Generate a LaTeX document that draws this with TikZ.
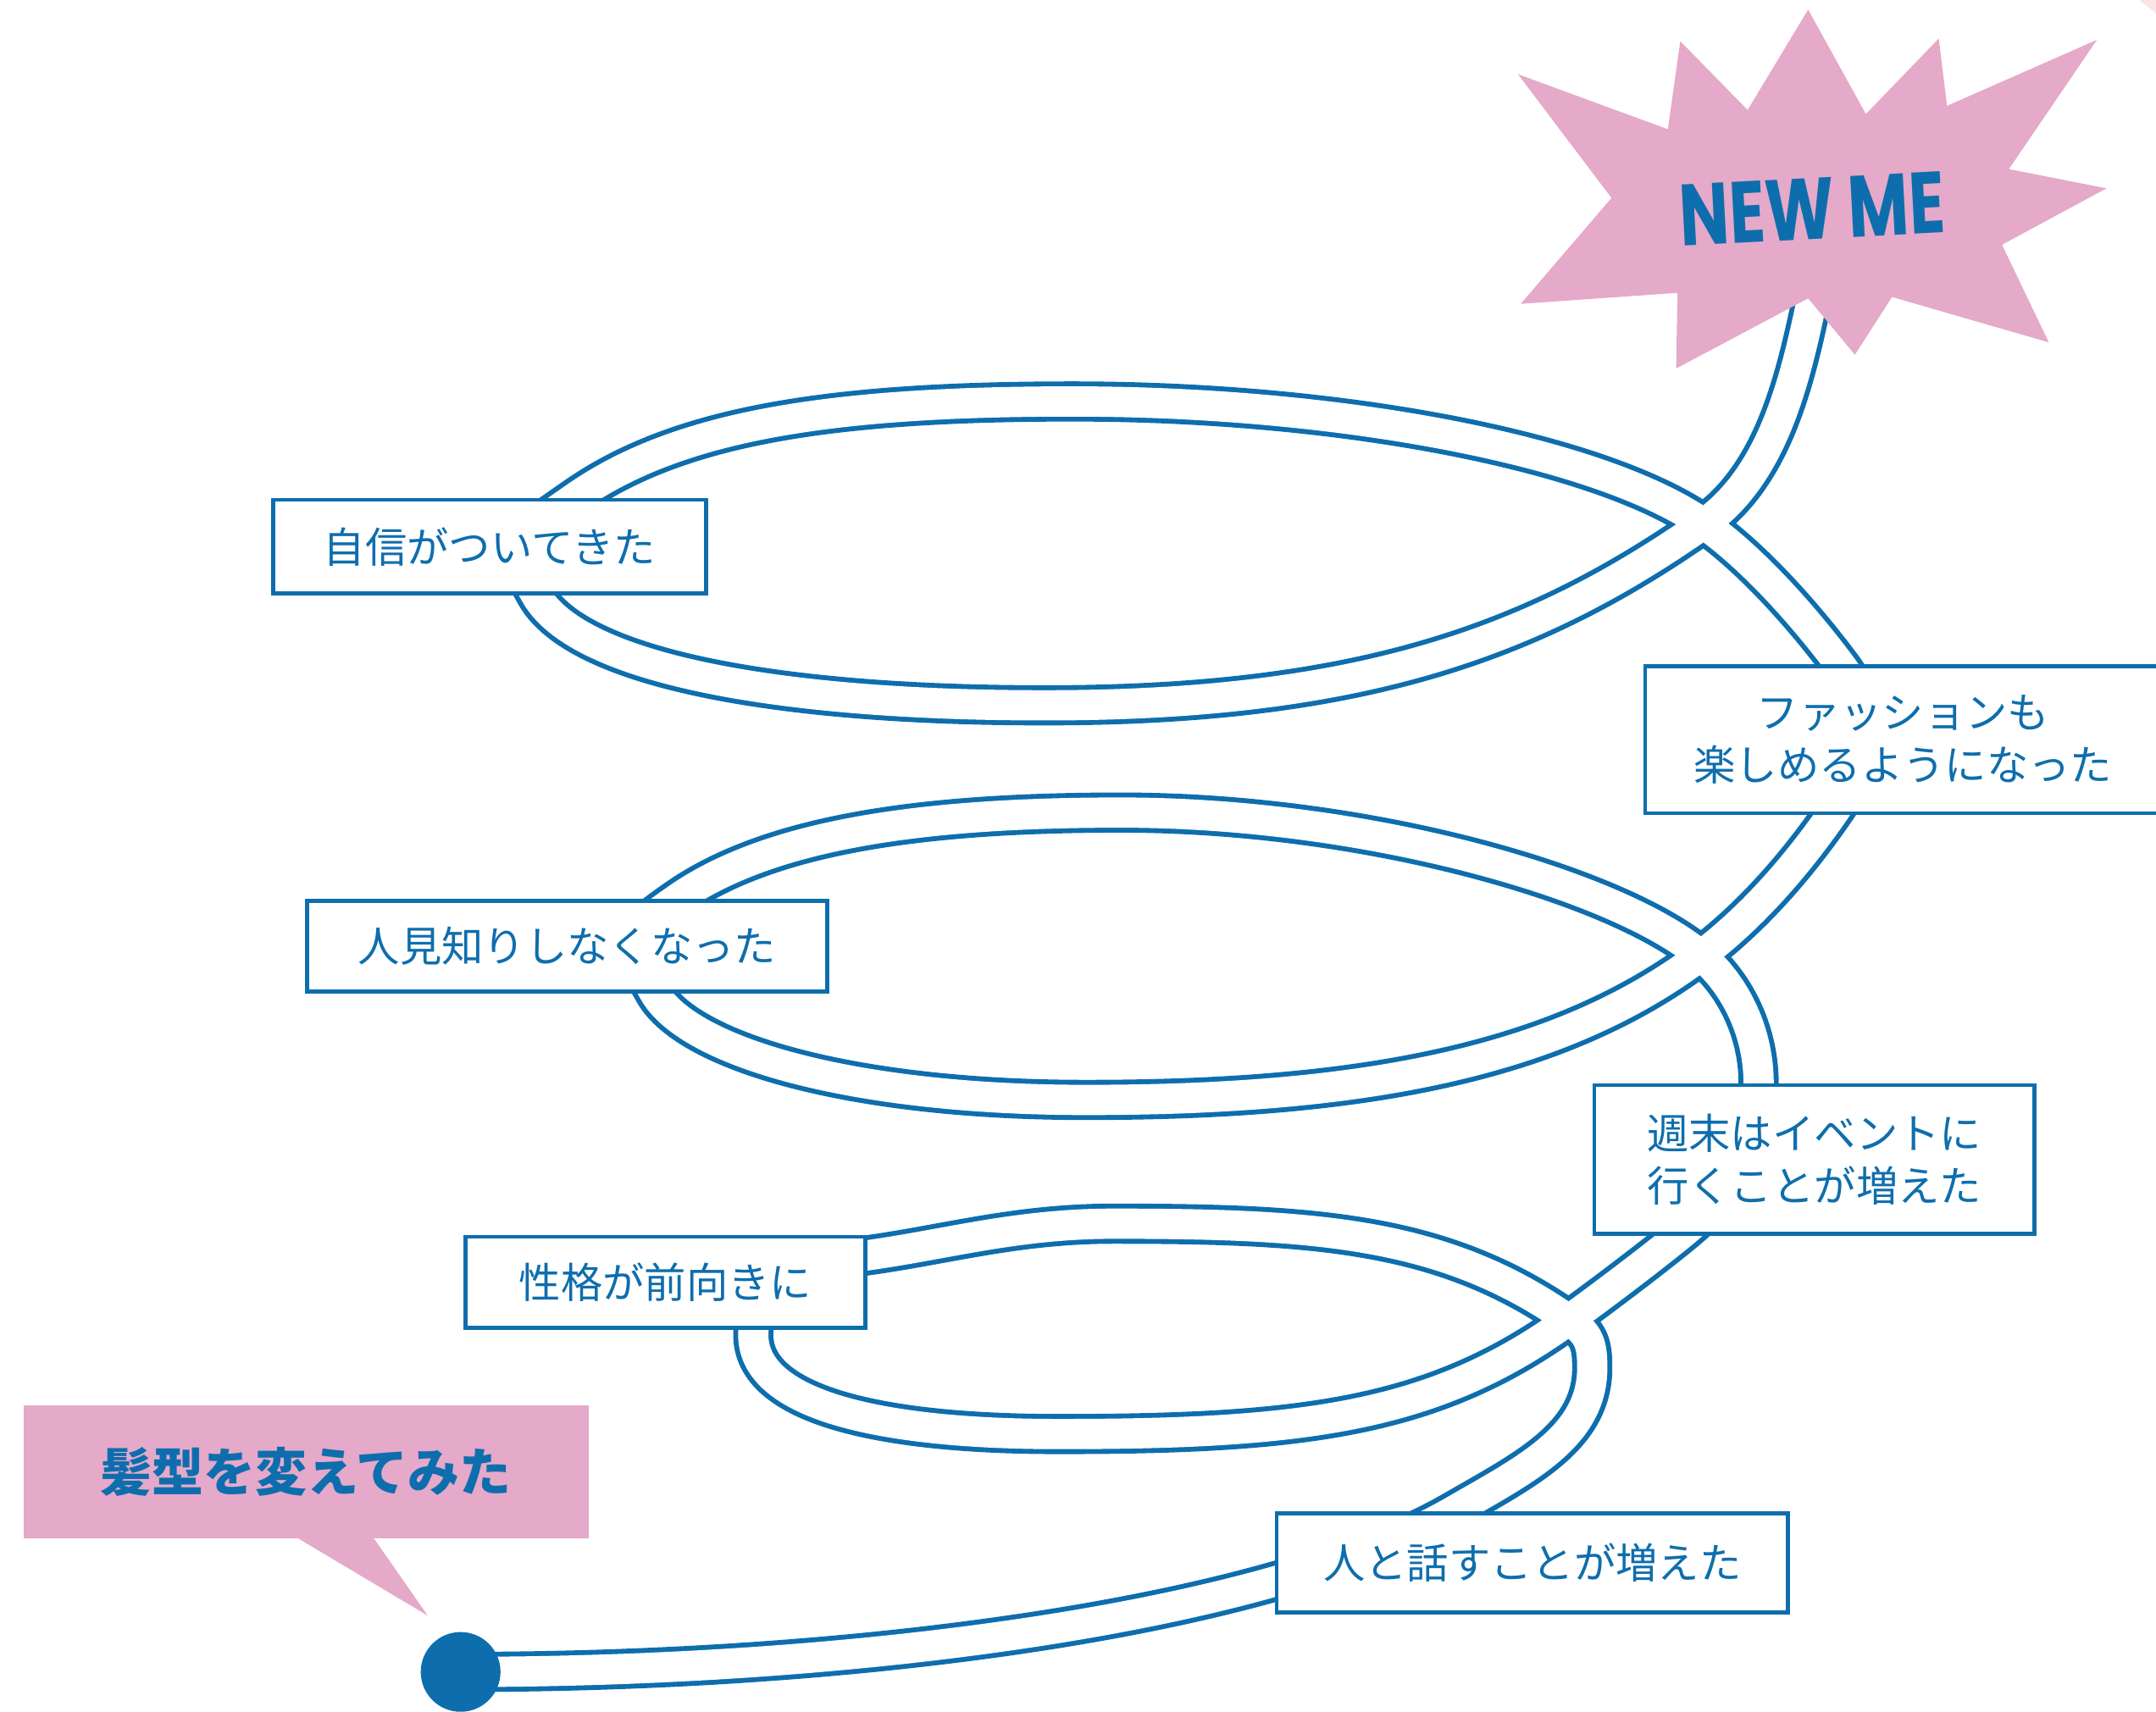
\documentclass[tikz,border=0pt]{standalone}
\usepackage{fontspec}
\usepackage{graphicx}
\newfontfamily\jpfont{Noto Sans CJK JP}
\newfontfamily\newmefont{Poppins}
\definecolor{ribbonblue}{HTML}{0E6EAD}
\definecolor{burstpink}{HTML}{E5A9C9}
\definecolor{cornerpink}{HTML}{FCE3E6}

\begin{document}
\begin{tikzpicture}[
  x=0.1mm, y=0.1mm,
  box/.style={draw=ribbonblue, line width=0.3mm, fill=white, text=ribbonblue, font=\jpfont\fontsize{8.65}{10.9}\selectfont, align=center, inner sep=0pt},
  ribbon/.style={draw=ribbonblue, line width=0.36mm, double=white, double distance=2.2mm},
  callout/.style={fill=burstpink, text=ribbonblue, font=\jpfont\bfseries\fontsize{10.7}{12}\selectfont, inner sep=0pt},
  startdot/.style={circle, fill=ribbonblue, minimum size=5.8mm, inner sep=0pt},
]
\useasboundingbox (0,0) rectangle (1568,1245);

% ── corner piece ──
\fill[cornerpink] (1556,1245) -- (1568,1245) -- (1568,1235) -- cycle;

% ── callout ──
\node[callout, minimum width=4.11cm, minimum height=0.97cm] (haircut) at (222.5,174.5) {髪型を変えてみた};
\fill[burstpink] (217,126) -- (311,70) -- (272,126) -- cycle;

% ── ribbon ──
\coordinate (start) at (335,29);
\draw[ribbon] (start)
  .. controls +(0:300) and +(210:150) .. (1057,146)
  .. controls +(30:60) and +(270:50) .. (1158,250)
  .. controls +(90:18) and +(325:18) .. (1141,285)
  .. controls +(145:110) and +(0:150) .. (810,355)
  .. controls +(180:70) and +(8:60) .. (631,332)
  .. controls +(188:60) and +(85:45) .. (548,278)
  .. controls +(265:55) and +(180:130) .. (770,202)
  .. controls +(0:180) and +(216:120) .. (1141,285)
  .. controls +(36:30) and +(219:30) .. (1221,346)
  .. controls +(39:50) and +(270:50) .. (1279,457)
  .. controls +(90:40) and +(320:30) .. (1237,550)
  .. controls +(140:80) and +(0:180) .. (815,654)
  .. controls +(180:150) and +(35:80) .. (492,591)
  .. controls +(215:45) and +(120:45) .. (476,523)
  .. controls +(300:50) and +(180:170) .. (790,445)
  .. controls +(0:200) and +(217:130) .. (1237,550)
  .. controls +(37:50) and +(235:40) .. (1332,652)
  .. controls +(55:50) and +(307:50) .. (1338,762)
  .. controls +(127:50) and +(325:40) .. (1239,864)
  .. controls +(145:90) and +(0:200) .. (780,953)
  .. controls +(180:180) and +(35:90) .. (418,883)
  .. controls +(215:50) and +(120:45) .. (390,812)
  .. controls +(300:60) and +(180:200) .. (760,732)
  .. controls +(0:230) and +(215:150) .. (1239,864)
  .. controls +(35:60) and +(258:60) .. (1317,1023)
  .. controls +(78:20) and +(265:20) .. (1325,1080);
\node[startdot] (startdot) at (start) {};

% ── boxes ──
\node[box, minimum width=3.72cm, minimum height=0.72cm] (talk) at (1114.5,108.5) {人と話すことが増えた};
\node[box, minimum width=2.91cm, minimum height=0.66cm] (personality) at (484,312.5) {性格が前向きに};
\node[box, minimum width=3.20cm, minimum height=1.08cm] (events) at (1319.5,401.75) {週末はイベントに\\行くことが増えた};
\node[box, minimum width=3.78cm, minimum height=0.66cm] (shy) at (412.5,557) {人見知りしなくなった};
\node[box, minimum width=3.75cm, minimum height=1.07cm] (fashion) at (1384,707) {ファッションも\\楽しめるようになった};
\node[box, minimum width=3.15cm, minimum height=0.68cm] (confident) at (356,847.5) {自信がついてきた};

% ── starburst ──
\fill[burstpink] (1104,1191) -- (1213,1151) -- (1222,1215) -- (1271,1165) -- (1315,1238)
  -- (1357,1162) -- (1410,1217) -- (1416,1168) -- (1525,1216) -- (1461,1122)
  -- (1532,1108) -- (1456,1067) -- (1490,996) -- (1376,1029) -- (1349,987)
  -- (1315,1028) -- (1219,977) -- (1220,1032) -- (1106,1024) -- (1172,1101) -- cycle;
\node[text=ribbonblue, rotate=3, inner sep=0pt] (newme) at (1318,1093)
  {\scalebox{0.76}[1]{\newmefont\bfseries\fontsize{18}{18}\selectfont NEW ME}};

\end{tikzpicture}
\end{document}
